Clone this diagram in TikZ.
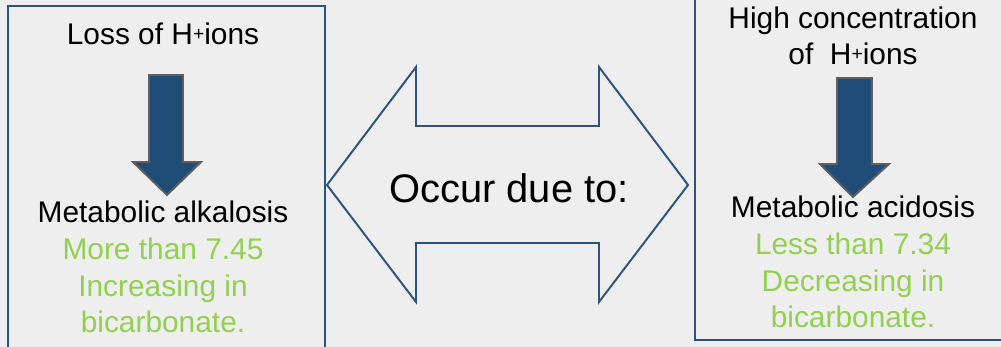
\documentclass[tikz,border=0pt]{standalone}
\usepackage{fontspec}
\setmainfont{Liberation Sans}
\usetikzlibrary{positioning}
\definecolor{bggray}{RGB}{238,238,238}
\definecolor{boxblue}{RGB}{44,82,128}
\definecolor{arrowfill}{RGB}{31,77,120}
\definecolor{arrowedge}{RGB}{95,95,95}
\definecolor{textgreen}{RGB}{146,208,80}
\newcommand{\hplus}{{\fontsize{11}{11}\selectfont\raisebox{0.4ex}{+}}}

\begin{document}
\begin{tikzpicture}[x=0.02cm, y=-0.02cm,
    panel/.style={draw=boxblue, line width=1.2pt},
    downarrow/.style={fill=arrowfill, draw=arrowedge, line width=1.1pt, line join=miter},
    label/.style={font=\fontsize{17}{21}\selectfont, anchor=base, align=center, inner sep=0pt},
    note/.style={label, text=textgreen}]
  % Fond
  \fill[bggray] (0,0) rectangle (1001,347);
  \useasboundingbox (0,0) rectangle (1001,347);
  \clip (0,0) rectangle (1001,347);
  % Cadres
  \draw[panel] (8,6) rectangle (325,370);
  \draw[panel] (695,-20) rectangle (1020,340);
  % Colonne gauche (base = derniere ligne)
  \node[label] (lossH) at (163,45) {Loss of H\hplus ions};
  \draw[downarrow] (149,75) -- (183,75) -- (183,162) -- (201,162) -- (167,195) -- (133,162) -- (149,162) -- cycle;
  \node[label] (alkalosis) at (163,223) {Metabolic alkalosis};
  \node[note] (alkalinfo) at (163,333) {More than 7.45\\Increasing in\\bicarbonate.};
  % Colonne droite
  \node[label] (highH) at (853,65) {High concentration\\of\ \ H\hplus ions};
  \draw[downarrow] (837,78) -- (872,78) -- (872,164) -- (889,164) -- (853,197) -- (820,164) -- (837,164) -- cycle;
  \node[label] (acidosis) at (853,218) {Metabolic acidosis};
  \node[note] (acidinfo) at (853,328) {Less than 7.34\\Decreasing in\\bicarbonate.};
  % Double fleche
  \draw[draw=boxblue, line width=1.1pt, line join=miter] (327,185) -- (416,67) -- (416,126) -- (599,126) -- (599,67) -- (688,185)
    -- (599,302) -- (599,243) -- (416,243) -- (416,302) -- cycle;
  \node[label, font=\fontsize{22.7}{27}\selectfont] (cause) at (509,203) {Occur due to:};
\end{tikzpicture}
\end{document}
